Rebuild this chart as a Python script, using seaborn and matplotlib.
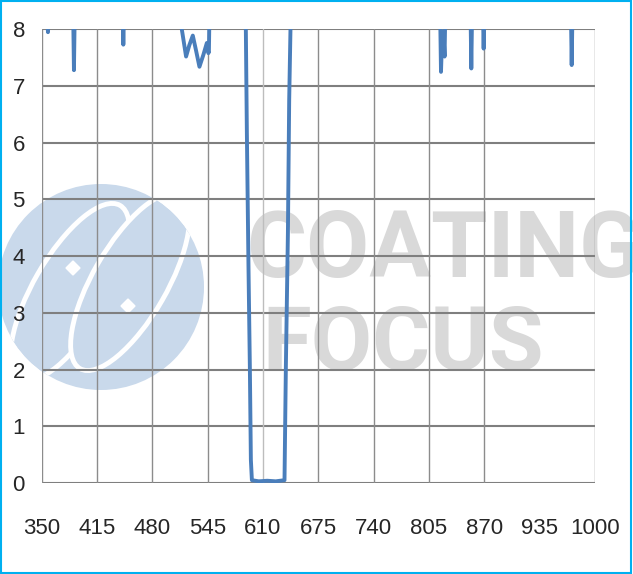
import pandas as pd
import seaborn as sns
import matplotlib.pyplot as plt
from matplotlib.patches import Circle, Ellipse, Rectangle, RegularPolygon

# wavelength (nm) and optical density; values above 8 run off the top
wavelength = [350, 355, 357.5, 359, 386.8, 388, 389.2, 444.8, 446, 447.2,
              513.5, 514.7, 519.7, 523.5, 527.6, 531.5, 535.4, 540, 544.1, 545.9, 546.5, 547.5,
              588.5, 589.9, 591.1, 593.0, 594.6, 595.8, 597.0, 605, 615, 625, 635.3,
              636.9, 639.3, 640.8, 642.3, 643.5,
              817.8, 819.1, 820.6, 822.0, 823.3, 824.5,
              853.5, 854.7, 855.9, 868.0, 869.2, 870.4, 971.4, 972.6, 973.8, 1000]
od = [8.6, 8.6, 7.95, 8.6, 8.6, 7.28, 8.6, 8.6, 7.73, 8.6,
      8.6, 8.0, 7.52, 7.72, 7.89, 7.62, 7.34, 7.55, 7.76, 7.58, 7.6, 8.6,
      8.6, 7.99, 6.17, 3.81, 2.05, 0.41, 0.05, 0.03, 0.04, 0.03, 0.05,
      2.05, 4.41, 6.75, 7.99, 8.6,
      8.6, 7.25, 7.95, 7.95, 7.52, 8.6,
      8.6, 7.31, 8.6, 8.6, 7.66, 8.6, 8.6, 7.37, 8.6, 8.6]

x_ticks = [350, 415, 480, 545, 610, 675, 740, 805, 870, 935, 1000]
y_ticks = [0, 1, 2, 3, 4, 5, 6, 7, 8]
# the source chart has no vertical gridline at 935
x_grid = [350, 415, 480, 545, 610, 675, 740, 805, 870, 1000]

df = pd.DataFrame({'wavelength': wavelength, 'od': od})

sns.set_style('white')
plt.rcParams['font.family'] = ['Liberation Sans Narrow', 'Liberation Sans', 'DejaVu Sans']

fig = plt.figure(figsize=(6.33, 5.74), dpi=100)

# watermark layer in pixel coordinates, behind the chart
bg = fig.add_axes([0, 0, 1, 1], zorder=0)
bg.set_xlim(0, 633)
bg.set_ylim(574, 0)
bg.axis('off')
disc = Circle((101, 287), 103, color='#c9d9eb', lw=0)
bg.add_patch(disc)
for cx, cy in [(70, 292), (130, 282)]:
    lobe = Ellipse((cx, cy), 200, 74, angle=-60, fc='#c9d9eb', ec='white', lw=3.5)
    bg.add_patch(lobe)
    lobe.set_clip_path(disc)
bg.add_patch(RegularPolygon((73, 268), 4, radius=7, color='white'))
bg.add_patch(RegularPolygon((128, 306), 4, radius=7, color='white'))
bg.text(246, 277, 'COATING', fontsize=66, fontweight='bold', family='Roboto',
        color='#d9d9d9', va='baseline', ha='left', clip_on=True)
bg.text(262, 370, 'FOCUS', fontsize=64, fontweight='bold', family='Roboto',
        color='#d9d9d9', va='baseline', ha='left')

ax = fig.add_axes([0.0657, 0.1585, 0.8743, 0.7904], zorder=1)
ax.patch.set_alpha(0)

sns.lineplot(data=df, x='wavelength', y='od', sort=False, estimator=None,
             color='#4A7EBB', lw=2.8, ax=ax, zorder=3)

ax.set_xlim(350, 1000)
ax.set_ylim(0, 8)
ax.set_xticks(x_ticks)
ax.set_yticks(y_ticks)
ax.set_xticklabels([str(v) for v in x_ticks], fontsize=16)
ax.set_yticklabels([str(v) for v in y_ticks], fontsize=16)
ax.tick_params(axis='x', length=0, pad=25)
ax.tick_params(axis='y', length=0, pad=12)
ax.set_xlabel('')
ax.set_ylabel('')

for s in ax.spines.values():
    s.set_visible(False)
ax.yaxis.grid(True, color='#7f7f7f', lw=1.5, zorder=1)
ax.set_axisbelow(True)
for v in x_grid:
    c = '#bdbdbd' if v == 610 else '#8c8c8c'
    ax.axvline(v, color=c, lw=1.0, zorder=1)

# cyan frame around the picture
fig.patches.append(Rectangle((1, 1), 630, 572, transform=None, fill=False,
                             ec='#00B0F0', lw=1.5))

fig.savefig('out.png', dpi=100)
